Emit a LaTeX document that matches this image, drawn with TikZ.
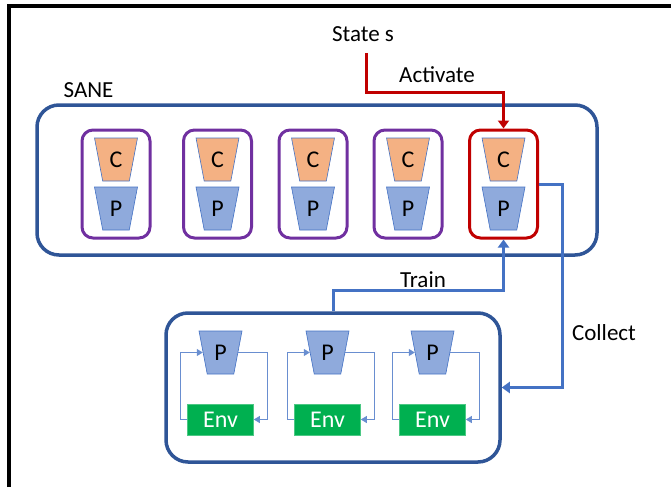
\documentclass[tikz,border=0pt]{standalone}
\usepackage{fontspec}
\setmainfont{Carlito}
\usetikzlibrary{shapes.geometric,arrows.meta,calc}
\definecolor{saneblue}{HTML}{2F5597}
\definecolor{linkblue}{HTML}{4472C4}
\definecolor{purp}{HTML}{7030A0}
\definecolor{darkred}{HTML}{C00000}
\definecolor{corange}{HTML}{F4B183}
\definecolor{pblue}{HTML}{8FAADC}
\definecolor{envgreen}{HTML}{00B050}
\begin{document}
\begin{tikzpicture}[x=1pt,y=-1pt,
  lbl/.style={font=\fontsize{23}{23}\selectfont,inner sep=3pt},
  outerbox/.style={draw=saneblue,line width=3.5pt,rounded corners=22pt},
  agentbox/.style={draw=purp,line width=3pt,rounded corners=11pt,minimum width=68pt,minimum height=108pt},
  trap/.style={trapezium,shape border rotate=180,trapezium stretches=true,
    minimum width=43pt,minimum height=43pt,trapezium left angle=76,trapezium right angle=76,
    draw=linkblue,line width=0.6pt,inner sep=0pt,font=\fontsize{24}{24}\selectfont},
  cnet/.style={trap,fill=corange},
  pnet/.style={trap,fill=pblue},
  envbox/.style={fill=envgreen,draw=envgreen!70!white,line width=0.6pt,minimum width=66pt,minimum height=31pt,inner sep=0pt,
    text=white,font=\fontsize{24}{24}\selectfont},
  conn/.style={draw=linkblue,line width=3pt,-{Triangle[length=8pt,width=11pt]}},
  redconn/.style={draw=darkred,line width=3pt,-{Triangle[length=8pt,width=11pt]}},
  loopconn/.style={draw=linkblue!80!white,line width=1.1pt,-{Triangle[length=6pt,width=7pt]}}
]
\useasboundingbox (0,0) rectangle (671,487);
% frame
\draw[line width=4pt] (9,487) -- (9,6) -- (671,6);

% labels
\node[lbl] (state) at (363,34) {State s};
\node[lbl] (activate) at (437,75) {Activate};
\node[lbl] (sanelbl) at (88.5,90) {SANE};
\node[lbl] (trainlbl) at (423,280) {Train};
\node[lbl] (collectlbl) at (604,333) {Collect};
\coordinate (sstart) at (366,53);

% SANE box
\node[outerbox,minimum width=560pt,minimum height=150pt] (sane) at (317,180) {};

% agents
\foreach \i/\x in {1/116,2/217.5,3/313,4/408} {
  \node[agentbox] (a\i) at (\x,184) {};
}
\node[agentbox,draw=darkred] (a5) at (503.5,184) {};
\foreach \i/\x in {1/116,2/217.5,3/313,4/408,5/503.5} {
  \node[cnet] (c\i) at (\x,159.5) {C};
  \node[pnet] (p\i) at (\x,208.5) {P};
}

% lower box
\node[outerbox,minimum width=334pt,minimum height=149pt] (lower) at (333,387.5) {};
\foreach \i/\x in {1/220.5,2/327.5,3/432.5} {
  \node[pnet] (lp\i) at (\x,352.5) {P};
  \node[envbox] (env\i) at (\x,419.5) {Env};
  \draw[loopconn] (env\i.west) -- ++(-6.5,0) |- (lp\i.west);
  \draw[loopconn] (lp\i.east) -| ($(env\i.east)+(14,0)$) -- (env\i.east);
}

% connectors
\draw[redconn] (sstart) -- ++(0,39) -| (a5.north);
\draw[conn] (a5.east) -- ++(23,0) |- (lower.east);
\draw[conn] (lower.north) -- ++(0,-21) -| (a5.south);
\end{tikzpicture}
\end{document}
